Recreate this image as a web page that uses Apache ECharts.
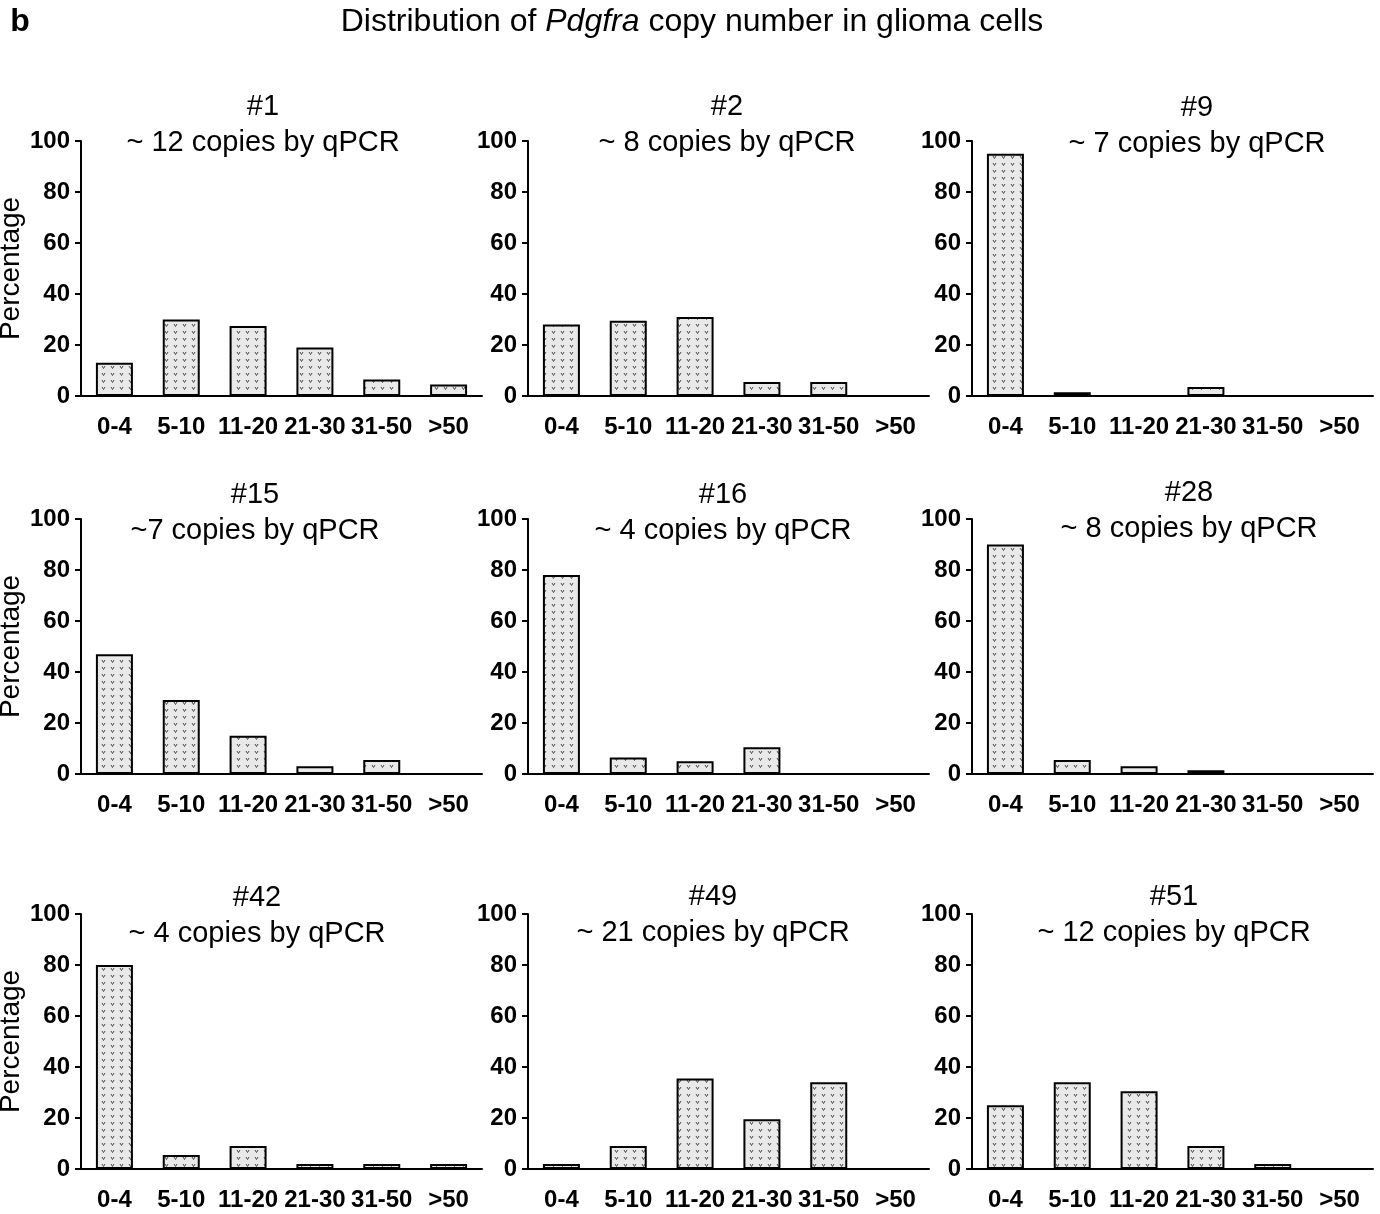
<!DOCTYPE html>
<html>
<head>
<meta charset="utf-8">
<script src="https://cdn.jsdelivr.net/npm/echarts@6/dist/echarts.min.js"></script>
<style>
  html, body { margin: 0; padding: 0; background: #fff; }
  #chart { width: 1380px; height: 1214px; }
</style>
</head>
<body>
<div id="chart"></div>
<script>
// copy number bins
const categories = ['0-4', '5-10', '11-20', '21-30', '31-50', '>50'];

// percentage of cells per bin, one array per tumour
const s1  = [13, 30, 27.5, 19, 6.5, 4.5];
const s2  = [28, 29.5, 31, 5.5, 5.5, 0];
const s9  = [95, 1.5, 0, 3.5, 0, 0];
const s15 = [47, 29, 15, 3, 5.5, 0];
const s16 = [78, 6.5, 5, 10.5, 0, 0];
const s28 = [90, 5.5, 3, 1.5, 0, 0];
const s42 = [80, 5.5, 9, 2, 2, 2];
const s49 = [2, 9, 35.5, 19.5, 34, 0];
const s51 = [25, 34, 30.5, 9, 2, 0];

const sampleNames = ['#1', '#2', '#9', '#15', '#16', '#28', '#42', '#49', '#51'];
const qpcrLabels = [
  '~ 12 copies by qPCR', '~ 8 copies by qPCR', '~ 7 copies by qPCR',
  '~7 copies by qPCR', '~ 4 copies by qPCR', '~ 8 copies by qPCR',
  '~ 4 copies by qPCR', '~ 21 copies by qPCR', '~ 12 copies by qPCR'
];
const yTicks = [0, 20, 40, 60, 80, 100];

const panels = [s1, s2, s9, s15, s16, s28, s42, s49, s51];

// layout (pixels)
const colLeft = [81, 528, 972];
const rowTop = [141, 519, 914];
const gridW = 401;
const gridH = 255;
const titleX = [263, 727, 1197, 255, 723, 1189, 257, 713, 1174];
const titleY = [107, 107, 108, 495, 495, 493, 898, 897, 897];

const textFont = '"Liberation Sans", Arial, sans-serif';

// dotted "v" fill like the original
function makePattern() {
  const c = document.createElement('canvas');
  c.width = 9;
  c.height = 7;
  const ctx = c.getContext('2d');
  ctx.fillStyle = '#e9e9e9';
  ctx.fillRect(0, 0, 9, 7);
  ctx.strokeStyle = '#4a4a4a';
  ctx.lineWidth = 1;
  ctx.beginPath();
  ctx.moveTo(3, 2);
  ctx.lineTo(4.5, 4.5);
  ctx.lineTo(6, 2);
  ctx.stroke();
  return c;
}
const pattern = makePattern();

const chart = echarts.init(document.getElementById('chart'));

const grids = [], xAxes = [], yAxes = [], series = [];
const titles = [
  {
    text: '{n|Distribution of }{i|Pdgfra}{n| copy number in glioma cells}',
    left: 692, top: 22, textAlign: 'center', textVerticalAlign: 'middle', padding: 0,
    textStyle: {
      fontWeight: 'normal',
      rich: {
        n: { fontFamily: textFont, fontSize: 32, fontWeight: 'normal', color: '#000' },
        i: { fontFamily: textFont, fontSize: 32, fontWeight: 'normal', color: '#000', fontStyle: 'italic' }
      }
    }
  },
  {
    text: 'b', left: 20, top: 22, textAlign: 'center', textVerticalAlign: 'middle', padding: 0,
    textStyle: { fontFamily: textFont, fontSize: 32, fontWeight: 'bold', color: '#000' }
  }
];

panels.forEach((vals, i) => {
  const col = i % 3, row = Math.floor(i / 3);
  grids.push({
    left: colLeft[col], top: rowTop[row], width: gridW, height: gridH,
    containLabel: false, outerBoundsMode: 'none'
  });
  titles.push({
    text: sampleNames[i] + '\n' + qpcrLabels[i],
    left: titleX[i], top: titleY[i] - 18, textAlign: 'center', textVerticalAlign: 'top', padding: 0,
    textStyle: { fontFamily: textFont, fontSize: 29, fontWeight: 'normal', color: '#000', lineHeight: 36 }
  });
  xAxes.push({
    type: 'category', gridIndex: i, data: categories,
    axisLine: { lineStyle: { color: '#000', width: 2 } },
    axisTick: { alignWithLabel: true, length: 6, lineStyle: { color: '#000', width: 2 } },
    axisLabel: { color: '#000', fontFamily: textFont, fontWeight: 'bold', fontSize: 24, margin: 19, interval: 0 },
    splitLine: { show: false }
  });
  yAxes.push({
    type: 'value', gridIndex: i, min: yTicks[0], max: yTicks[yTicks.length - 1], interval: 20,
    name: col === 0 ? 'Percentage' : '',
    nameLocation: 'middle', nameGap: 56,
    nameTextStyle: { fontFamily: textFont, fontSize: 28, color: '#000' },
    axisLine: { show: true, lineStyle: { color: '#000', width: 2 } },
    axisTick: { show: true, length: 6, lineStyle: { color: '#000', width: 2 } },
    axisLabel: { color: '#000', fontFamily: textFont, fontWeight: 'bold', fontSize: 24, margin: 11 },
    splitLine: { show: false }
  });
  series.push({
    type: 'bar', xAxisIndex: i, yAxisIndex: i, data: vals,
    barWidth: 37,
    itemStyle: { color: { image: pattern, repeat: 'repeat' }, borderColor: '#000', borderWidth: 2 },
    silent: true
  });
});

chart.setOption({
  animation: false,
  backgroundColor: '#fff',
  title: titles,
  grid: grids,
  xAxis: xAxes,
  yAxis: yAxes,
  series: series
});
</script>
</body>
</html>
